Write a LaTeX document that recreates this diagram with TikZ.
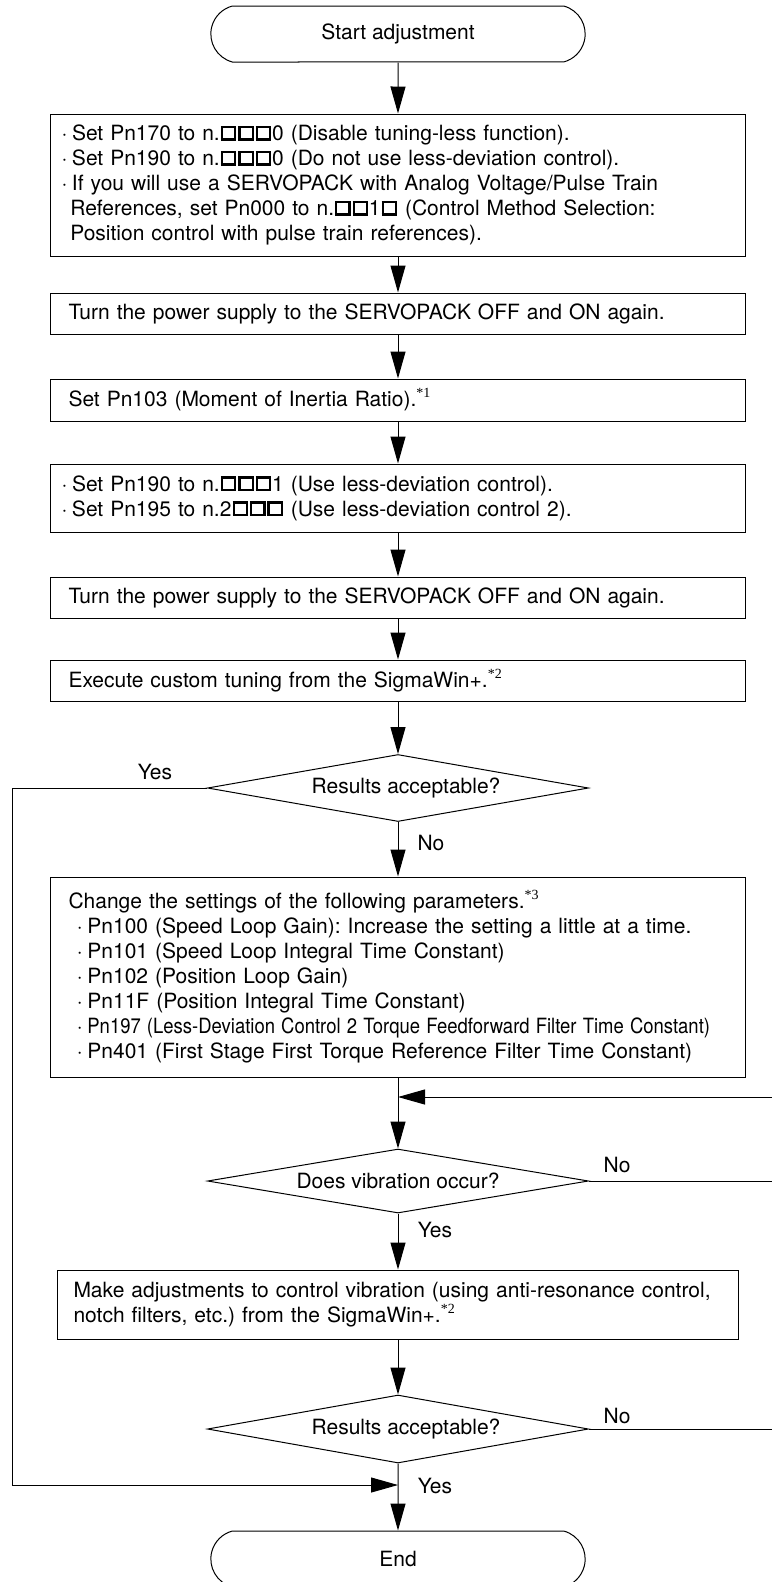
\documentclass[tikz,border=0pt]{standalone}
\usepackage{fontspec}
\usepackage{graphicx}
\setmainfont{TeX Gyre Heros}
\newfontfamily\notefont{Liberation Serif}
\usetikzlibrary{arrows.meta,shapes.geometric,shapes.misc}
\newcommand\sqr{\kern0.05em\raisebox{0.1em}{\fboxsep=0pt\fboxrule=0.11em\fbox{\vrule width0pt height0.5em\hspace{0.52em}}}\kern0.04em}
\newcommand\noteref[1]{\raisebox{0.42em}{\fontsize{14}{14}\notefont *#1}}
\newcommand\bul{\makebox[0.5em][l]{·}}
\frenchspacing
\begin{document}
\begin{tikzpicture}[x=1pt,y=-1pt,line width=1pt]
    \tikzstyle{every node}=[font=\fontsize{21}{25}\selectfont]
    \tikzstyle{term}=[draw,rounded rectangle,rounded rectangle arc length=150,minimum width=381pt,minimum height=56pt]
    \tikzstyle{box}=[draw,rectangle,minimum width=695pt,text width=673pt,inner xsep=11pt,align=left]
    \tikzstyle{plainbox}=[box,text width=659pt,inner xsep=18pt]
    \tikzstyle{decision}=[draw,diamond,aspect=5.7,inner sep=0pt,minimum width=381pt,minimum height=67pt]
    \tikzstyle{arr}=[-{Triangle[length=27pt,width=15pt]}]
    \useasboundingbox (0,0) rectangle (771,1582);
    \node [term] (start) at (398,34) {Start adjustment};
    \node [box,minimum height=142pt] (pn170) at (398,185) {\bul Set Pn170 to n.\sqr\sqr\sqr0 (Disable tuning-less function).\\
        \bul Set Pn190 to n.\sqr\sqr\sqr0 (Do not use less-deviation control).\\
        \bul If you will use a SERVOPACK with Analog Voltage/Pulse Train\\
        \hspace*{0.42em}References, set Pn000 to n.\sqr\sqr1\sqr{} (Control Method Selection:\\
        \hspace*{0.42em}Position control with pulse train references).};
    \node [plainbox,minimum height=41pt] (power1) at (398,313.5) {Turn the power supply to the SERVOPACK OFF and ON again.};
    \node [plainbox,minimum height=42pt] (pn103) at (398,400) {Set Pn103 (Moment of Inertia Ratio).\noteref{1}};
    \node [box,minimum height=68pt] (pn190) at (398,498) {\bul Set Pn190 to n.\sqr\sqr\sqr1 (Use less-deviation control).\\
        \bul Set Pn195 to n.2\sqr\sqr\sqr{} (Use less-deviation control 2).};
    \node [plainbox,minimum height=41pt] (power2) at (398,597.5) {Turn the power supply to the SERVOPACK OFF and ON again.};
    \node [plainbox,minimum height=41pt] (tuning) at (398,680.5) {Execute custom tuning from the SigmaWin+.\noteref{2}};
    \node [decision] (check1) at (398,788) {\hspace*{16pt}Results acceptable?};
    \node [plainbox,minimum height=200pt] (params) at (398,977) {Change the settings of the following parameters.\noteref{3}\\
        \hspace*{0.4em}\bul Pn100 (Speed Loop Gain): Increase the setting a little at a time.\\
        \hspace*{0.4em}\bul Pn101 (Speed Loop Integral Time Constant)\\
        \hspace*{0.4em}\bul Pn102 (Position Loop Gain)\\
        \hspace*{0.4em}\bul Pn11F (Position Integral Time Constant)\\
        \hspace*{0.4em}\bul \scalebox{0.88}[1]{Pn197 (Less-Deviation Control 2 Torque Feedforward Filter Time Constant)}\\
        \hspace*{0.4em}\bul Pn401 (First Stage First Torque Reference Filter Time Constant)};
    \coordinate (merge) at (398,1097);
    \node [decision,minimum height=64pt] (vibr) at (398,1181) {Does vibration occur?};
    \node [plainbox,minimum width=681pt,text width=649pt,inner xsep=16pt,minimum height=69pt] (antires) at (398,1304.5) {Make adjustments to control vibration (using anti-resonance control,\\
        notch filters, etc.) from the SigmaWin+.\noteref{2}};
    \node [decision,minimum height=68pt] (check2) at (398,1429) {\hspace*{16pt}Results acceptable?};
    \coordinate (join) at (398,1485);
    \node [term] (end) at (398,1559) {End};
    \coordinate (lbot) at (12,1485);
    \coordinate (rtop) at (776,1097);
    \node (yes1) at (155,772) {Yes};
    \node (no1) at (431,843) {No};
    \node (no2) at (617,1165) {No};
    \node (yes2) at (435,1230) {Yes};
    \node (no3) at (617,1416) {No};
    \node (yes3) at (435,1486) {Yes};
    \draw [arr] (start) -- (pn170);
    \draw [arr] (pn170) -- (power1);
    \draw [arr] (power1) -- (pn103);
    \draw [arr] (pn103) -- (pn190);
    \draw [arr] (pn190) -- (power2);
    \draw [arr] (power2) -- (tuning);
    \draw [arr] (tuning) -- (check1);
    \draw [arr] (check1) -- (params);
    \draw [arr] (params) -- (vibr);
    \draw [arr] (vibr) -- (antires);
    \draw [arr] (antires) -- (check2);
    \draw [arr] (check2) -- (end);
    \draw [arr] (check1.west) -| (lbot) -- (join);
    \draw [arr] (vibr.east) -| (rtop) -- (merge);
    \draw (check2.east) -| (rtop);
\end{tikzpicture}
\end{document}
